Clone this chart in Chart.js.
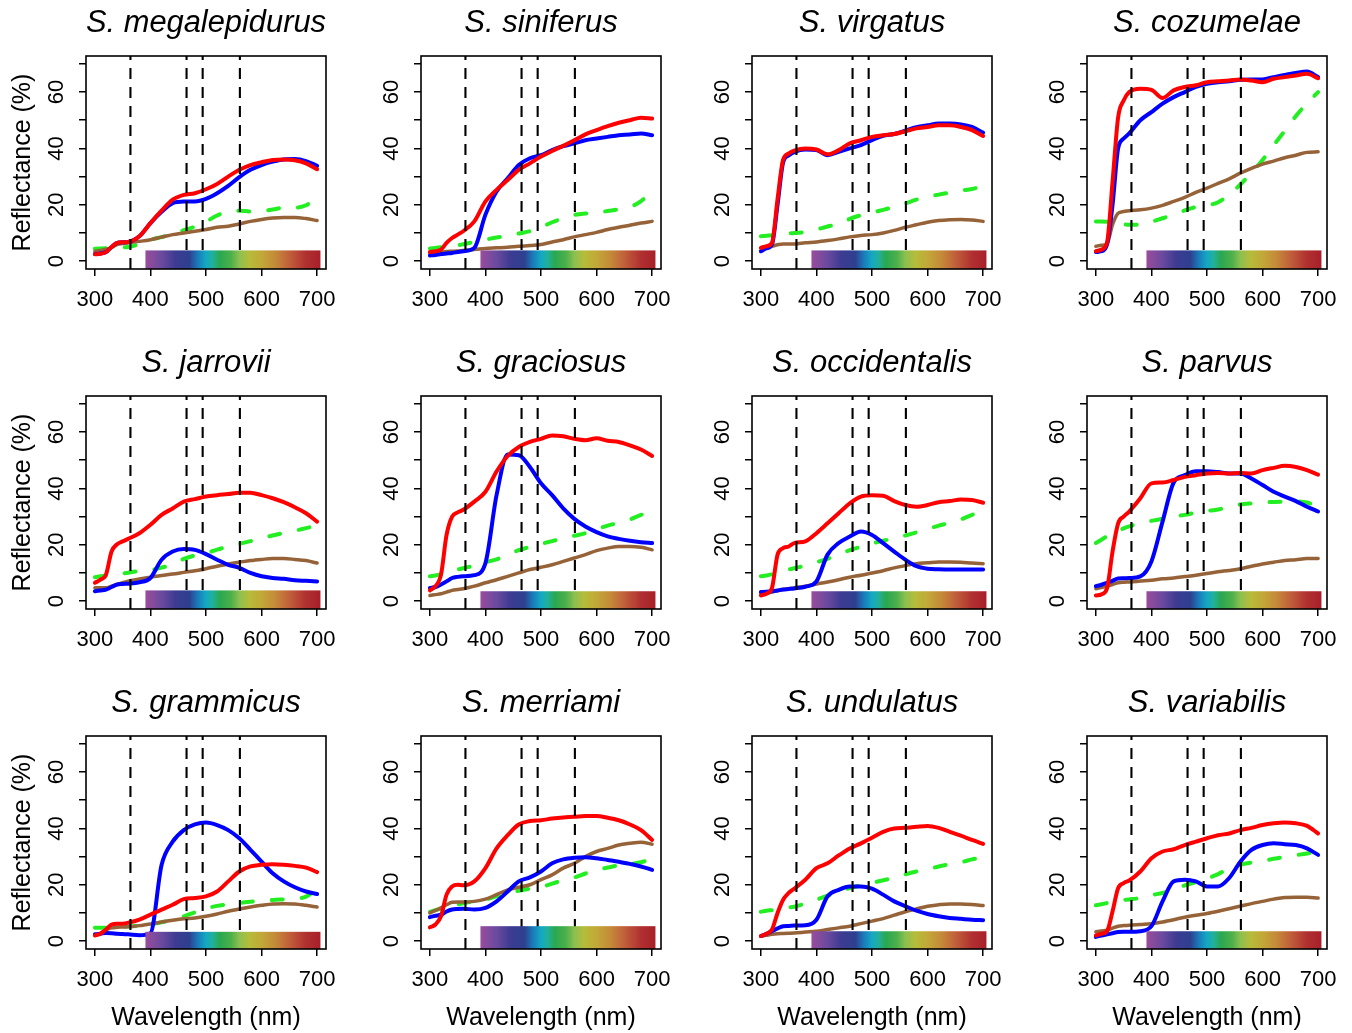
<!DOCTYPE html>
<html lang="en">
<head>
<meta charset="UTF-8">
<title>Sceloporus reflectance spectra</title>
<script src="https://cdn.jsdelivr.net/npm/chart.js"></script>
<style>
  html, body { margin: 0; padding: 0; background: #fff; overflow: hidden; }
  #wrap { position: relative; width: 1352px; height: 1033px; overflow: hidden; }
  #wrap canvas { position: absolute; }
</style>
</head>
<body>
<div id="wrap"></div>
<script>
// wavelengths (nm) shared by every curve
const WL = [300, 310, 320, 330, 340, 350, 360, 380, 400, 420, 440, 460, 480, 500, 520, 540, 560, 580, 600, 620, 640, 660, 680, 700];

const SPECIES = ['S. megalepidurus', 'S. siniferus', 'S. virgatus', 'S. cozumelae',
                 'S. jarrovii', 'S. graciosus', 'S. occidentalis', 'S. parvus',
                 'S. grammicus', 'S. merriami', 'S. undulatus', 'S. variabilis'];

// cone sensitivity peaks (dashed verticals)
const CONES = [364, 465, 494, 561];

const X_MIN = 284, X_MAX = 716;
const Y_MIN = -2.8, Y_MAX = 72.8;

// spectrum strip: nm range and height per panel
const BAR_FROM = 391, BAR_TO = 706;
const BAR_TOP = [3.8, 3.8, 3.8, 3.8, 3.8, 3.5, 3.5, 3.5, 3.3, 5.3, 3.5, 3.5];

// reflectance (%) per species, one row per panel
const RED = [
  [2.4, 2.6, 3.2, 5, 6.5, 6.7, 6.8, 8.8, 13.5, 17.9, 21.8, 23.5, 24.1, 25.5, 27.4, 30, 32.4, 34.1, 35.1, 35.9, 36.1, 35.8, 34.7, 32.6],
  [3.2, 3.5, 4.1, 6.5, 8.2, 9.4, 10.6, 14.1, 21.2, 25.3, 28.8, 32.4, 34.7, 37.1, 39.1, 40.9, 42.9, 45, 46.5, 47.9, 49.1, 50, 50.9, 50.6],
  [4.7, 5.3, 6.5, 22, 36, 38.2, 39.2, 40, 39.6, 37.9, 39.4, 41.8, 42.9, 44.1, 44.7, 45.1, 46.1, 47.1, 47.6, 48.2, 48.2, 47.6, 46.5, 44.4],
  [3.5, 4.1, 6.5, 28.2, 51, 57, 60, 61.2, 60.8, 57.9, 60.6, 61.8, 62.4, 63.5, 63.8, 64.1, 64.5, 64.1, 63.5, 64.7, 65.3, 65.9, 66.5, 64.9],
  [6.5, 7.6, 9.4, 17.6, 20.2, 21.2, 22.1, 24.1, 27.1, 30.6, 32.9, 35.3, 36.2, 37.1, 37.6, 38, 38.5, 38.5, 37.6, 36.5, 35.1, 33.3, 31.2, 28.2],
  [3.8, 5.3, 9.4, 23.5, 30, 31.5, 32.4, 35.3, 38.8, 46, 51.5, 54.7, 56.5, 57.6, 58.8, 58.5, 57.6, 57.1, 57.8, 56.9, 56.5, 55.3, 53.8, 51.5],
  [2, 2.6, 4.7, 16.5, 18.8, 19.4, 20.6, 21.2, 24.1, 27.6, 31.2, 34.7, 37.1, 37.6, 37.4, 35.5, 34.1, 33.5, 34.1, 35.1, 35.5, 36.1, 35.9, 34.9],
  [2, 2.4, 4.5, 17.6, 27.6, 30, 31.8, 36.5, 41.8, 42.1, 43, 44.1, 44.7, 45.3, 45.5, 45.3, 45.5, 45.3, 46.5, 47.3, 48, 47.6, 46.5, 44.9],
  [2, 2.6, 4.1, 5.9, 6.2, 6.2, 6.5, 7.6, 9.4, 11.2, 12.9, 14.9, 15.3, 15.9, 17.6, 21.2, 24.7, 26.5, 27.1, 27.3, 27.1, 26.7, 26.1, 24.5],
  [4.9, 5.9, 8.8, 16.5, 19.4, 20, 19.8, 21.2, 25.9, 32.9, 37.6, 41.4, 42.6, 42.9, 43.5, 43.9, 44.1, 44.4, 44.4, 43.8, 42.9, 41.4, 39.4, 35.9],
  [1.8, 2.6, 4.1, 10, 14.7, 17.1, 18.6, 21.8, 25.9, 27.6, 30.4, 32.9, 34.7, 36.7, 38.8, 40, 40.2, 40.6, 40.9, 40.2, 38.8, 37.4, 35.9, 34.5],
  [2, 2.6, 3.5, 10.6, 18.8, 20.6, 21.5, 24.7, 29.4, 31.8, 32.6, 34.1, 35.3, 36.5, 37.6, 38.2, 39.4, 40.2, 41.2, 41.8, 42.1, 41.8, 40.9, 38.2]
];

const BLUE = [
  [2.5, 2.7, 3.2, 5, 6.5, 6.7, 6.8, 8.8, 13.5, 17.5, 20.6, 21.2, 21.2, 22.1, 24.1, 26.7, 29.8, 32.4, 34.1, 35.3, 36.1, 36.2, 35.5, 33.8],
  [2, 2.2, 2.5, 2.7, 2.9, 3.2, 3.5, 4.7, 16.5, 24.7, 29.4, 34.1, 36.5, 37.6, 39.4, 40.8, 41.8, 42.9, 43.5, 44.1, 44.7, 44.9, 45.3, 44.7],
  [3.5, 4.5, 5.9, 20, 35, 37.5, 38.7, 39.6, 39.4, 37.6, 38.8, 40, 41.2, 42.9, 44.5, 45.1, 46.3, 47.5, 48.2, 48.8, 48.8, 48.5, 47.6, 45.6],
  [3.2, 3.5, 5.9, 20, 40, 43.5, 45.3, 50, 52.9, 55.9, 58.2, 60, 61.8, 62.9, 63.5, 63.8, 64.4, 64.5, 64.5, 65.3, 66.1, 66.8, 67.3, 65.3],
  [3.5, 3.8, 4.1, 5, 5.9, 6.1, 6.2, 6.7, 8.2, 14.7, 17.6, 18.5, 18.2, 16.7, 14.7, 12.9, 11.8, 10, 8.8, 8.2, 7.9, 7.4, 7.2, 7],
  [4.7, 5, 5.9, 7, 8.2, 8.6, 8.8, 9.2, 13.5, 37.6, 52, 51.8, 47.6, 41.8, 37.6, 32.9, 29.2, 26.5, 24.5, 23, 22.1, 21.4, 20.9, 20.6],
  [3.2, 3.3, 3.5, 3.8, 4.1, 4.3, 4.5, 5.1, 7, 16.5, 20.6, 22.9, 24.7, 23.5, 20.6, 17.6, 14.7, 12.4, 11.5, 11.3, 11.2, 11.2, 11.2, 11.2],
  [5.3, 5.8, 6.5, 7.2, 8, 8.1, 8.2, 8.8, 14.1, 28.2, 42.1, 44.7, 46.1, 46.1, 45.8, 45.3, 45.3, 43.5, 41.2, 38.8, 37.1, 35.5, 33.5, 31.8],
  [2.4, 2.6, 2.9, 2.8, 2.6, 2.5, 2.4, 2.1, 2.8, 27, 35.3, 39.4, 41.4, 42.1, 41.2, 39.4, 36.5, 32.4, 28.2, 24.1, 21.2, 19.1, 17.6, 16.7],
  [8.5, 9, 9.4, 10.5, 11.2, 11.4, 11.5, 11.2, 11.8, 14.1, 17.6, 21.2, 22.6, 24.7, 27.6, 29, 29.6, 29.8, 29.4, 28.8, 28.2, 27.4, 26.5, 25.3],
  [1.8, 2.6, 3.5, 4.5, 5.3, 5.4, 5.5, 5.6, 7.6, 15.9, 18.2, 19.4, 19.4, 18.6, 16.5, 14.1, 12.4, 10.8, 9.6, 8.8, 8.2, 7.9, 7.6, 7.4],
  [1.5, 2, 2.4, 2.8, 3.2, 3.3, 3.3, 3.5, 5.3, 14.1, 21.2, 21.8, 21.2, 19.4, 19.4, 22.4, 28.2, 32.4, 34.1, 34.7, 34.4, 34.1, 32.9, 30.6]
];

const GREEN = [
  [4.4, 4.5, 4.6, 4.7, 4.8, 4.9, 5, 6, 7.6, 8.5, 9.8, 11, 12.2, 14, 16.2, 17.6, 17.9, 17.6, 17.8, 18.3, 19, 19, 19.8, 23],
  [4.5, 4.7, 4.9, 5.1, 5.3, 5.6, 6, 6.8, 7.6, 8.4, 8.9, 9.8, 10.6, 12, 13.8, 15.2, 16.4, 16.9, 17.2, 17.8, 18.4, 19.2, 21.3, 25],
  [8.8, 9, 9.2, 9.4, 9.6, 9.8, 10, 10.3, 11.2, 12.3, 13.1, 15, 16.3, 17.2, 18.2, 19.3, 20.5, 21.8, 22.8, 23.6, 24.3, 25, 25.6, 26.6],
  [14.1, 14.1, 14, 13.7, 13.4, 13.1, 12.9, 12.9, 14, 15.2, 16.5, 18, 19.2, 19.8, 20.9, 23.6, 27.2, 31.4, 35.9, 41.2, 46.2, 51.5, 56, 60],
  [8.5, 8.8, 9.1, 9.4, 9.6, 9.8, 10.1, 10.7, 11, 11.9, 13, 15, 16.2, 17, 18.3, 19.3, 20.3, 21.3, 22.3, 23.3, 24.2, 25, 25.9, 26.8],
  [8.8, 9.1, 9.5, 10, 10.5, 11.2, 11.7, 12.6, 13.8, 14.8, 16.5, 18.1, 19.2, 20.3, 21.3, 22.3, 23.2, 24.1, 25.5, 26.8, 27.8, 29, 30.6, 31.5],
  [8.8, 9.1, 9.5, 10, 10.5, 11.2, 11.7, 12.6, 13.8, 15, 16.5, 18.1, 19.3, 20.5, 21.4, 22.3, 23.3, 24.4, 25.6, 26.8, 27.8, 29, 30.6, 31.5],
  [20.6, 21.8, 23, 24, 25, 25.8, 26.5, 27.6, 28.5, 29.2, 30, 30.6, 31.4, 32, 32.5, 33.5, 34.3, 34.7, 35, 35.2, 35.3, 35.4, 35, 33.5],
  [4.7, 4.7, 4.7, 4.8, 4.9, 5.1, 5.2, 5.5, 6, 6.7, 7.6, 8.8, 10.2, 11.6, 12.5, 13, 13.5, 14, 14.3, 14.6, 14.8, 15, 15.8, 18.6],
  [10.4, 11, 11.6, 12.1, 12.6, 13, 13.4, 14.2, 14.8, 15.9, 16.9, 17.9, 18.6, 19.2, 20.4, 21.6, 22.6, 24, 25.2, 26.1, 26.9, 27.4, 28, 29.2],
  [10.4, 10.8, 11, 11.3, 11.6, 11.9, 12.2, 13.3, 14.7, 16.1, 17.5, 18.8, 19.8, 20.7, 21.6, 22.5, 23.7, 24.7, 25.5, 26.5, 27.3, 28, 29, 29.8],
  [12.7, 13.1, 13.5, 13.9, 14.3, 14.6, 14.8, 15.3, 16.3, 17.1, 18.2, 19.8, 20.9, 22.2, 23.8, 25.8, 27.1, 27.9, 28.5, 29.2, 29.9, 30.5, 31.1, 31.8]
];

const BROWN = [
  [3.5, 3.8, 4.2, 4.8, 5.9, 6.2, 6.5, 7, 7.6, 8.5, 9.4, 10, 10.6, 11.2, 12, 12.4, 13.2, 14.1, 14.8, 15.3, 15.5, 15.5, 15.1, 14.4],
  [2.9, 3, 3.2, 3.4, 3.5, 3.6, 3.8, 4.1, 4.5, 4.7, 4.9, 5.3, 5.5, 5.9, 6.8, 7.6, 8.6, 9.4, 10.2, 11.2, 12, 12.7, 13.5, 14.1],
  [4.7, 5, 5.3, 5.8, 6.1, 6.1, 6.1, 6.5, 6.8, 7.3, 7.9, 8.6, 9.1, 9.4, 10, 10.9, 12, 12.9, 13.8, 14.4, 14.7, 14.8, 14.6, 14.1],
  [5.3, 5.6, 6.1, 13, 17, 17.6, 17.9, 18.2, 18.8, 19.8, 21.2, 22.6, 24.4, 25.9, 27.6, 29.2, 31.2, 32.9, 34.4, 35.5, 36.7, 37.6, 38.6, 38.8],
  [4.7, 4.7, 4.7, 5.3, 5.9, 6.5, 7.1, 7.9, 8.5, 9.1, 9.6, 10.2, 10.8, 11.5, 12.4, 13.2, 13.8, 14.4, 14.8, 15.1, 15.1, 14.8, 14.4, 13.5],
  [2, 2.3, 2.6, 3.2, 3.8, 4.1, 4.4, 5.3, 6.5, 7.6, 8.8, 10, 11.2, 12, 12.9, 14.1, 15.3, 16.5, 17.9, 18.8, 19.4, 19.4, 19.1, 18.2],
  [2.4, 2.8, 3.2, 3.7, 4.1, 4.4, 4.7, 5.3, 6.1, 6.8, 7.6, 8.5, 9.2, 10, 10.8, 11.8, 12.6, 13.3, 13.6, 13.9, 13.9, 13.8, 13.5, 13.3],
  [4.4, 4.8, 5.3, 5.9, 6.5, 6.7, 6.8, 7.1, 7.4, 7.9, 8.2, 8.7, 9.2, 9.8, 10.4, 10.9, 11.5, 12.4, 13.2, 13.8, 14.4, 14.7, 15.1, 15.1],
  [2.1, 2.8, 4, 4.7, 4.9, 5, 5.1, 5.5, 6.1, 6.8, 7.4, 7.9, 8.2, 8.8, 9.6, 10.6, 11.4, 12.1, 12.7, 13.2, 13.3, 13.2, 12.7, 12.1],
  [10, 10.9, 11.8, 12.9, 13.8, 13.9, 13.9, 14.1, 14.9, 16.5, 18.2, 19.1, 20, 21.8, 23.5, 25.9, 27.6, 30, 31.8, 32.9, 34.1, 34.7, 35.1, 34.4],
  [1.8, 2.1, 2.4, 2.6, 2.7, 2.8, 2.9, 3.2, 3.5, 4.1, 4.7, 5.3, 6.2, 7.1, 8, 9.2, 10.4, 11.4, 12.4, 12.9, 13.2, 13.2, 13, 12.6],
  [3.3, 3.6, 3.9, 4.6, 5.3, 5.5, 5.6, 5.9, 6.2, 6.8, 7.6, 8.5, 9.2, 9.8, 10.6, 11.5, 12.4, 13.3, 14.1, 14.9, 15.5, 15.6, 15.6, 15.3]
];

// colour stops of the spectrum strip
const SPECTRUM = [
  [391, '#9a4c9c'], [420, '#6a4a9e'], [445, '#3c3c92'], [470, '#2e4090'],
  [485, '#1a7ab8'], [500, '#14a8c4'], [512, '#22b09a'], [525, '#2aa850'],
  [545, '#4cb04a'], [560, '#8cc050'], [578, '#b6bc3a'], [600, '#c2a838'],
  [625, '#c48a38'], [650, '#c0603a'], [680, '#b03030'], [706, '#a8202a']
];

const FONT = '"Liberation Sans", Arial, Helvetica, sans-serif';
Chart.defaults.font.family = FONT;
Chart.defaults.color = '#000';

const COL_LEFT = [86, 421, 752, 1087];
const ROW_TOP = [56, 396, 736];
const PLOT_W = 240, PLOT_H = 213;
const AX_W = 80, AX_H = 84, TITLE_H = 56, PAD_R = 30;

const panelDecor = {
  id: 'panelDecor',
  afterDatasetsDraw(chart, args, opts) {
    const {ctx, chartArea: a, scales: {x, y}} = chart;
    const x0 = x.getPixelForValue(BAR_FROM), x1 = x.getPixelForValue(BAR_TO);
    const y0 = y.getPixelForValue(opts.barTop);
    const g = ctx.createLinearGradient(x0, 0, x1, 0);
    SPECTRUM.forEach(([nm, c]) => g.addColorStop((nm - BAR_FROM) / (BAR_TO - BAR_FROM), c));
    ctx.save();
    ctx.fillStyle = g;
    ctx.fillRect(x0, y0, x1 - x0, a.bottom - y0);
    ctx.restore();
  },
  afterDraw(chart) {
    const {ctx, chartArea: a, scales: {y}} = chart;
    ctx.save();
    ctx.strokeStyle = '#000';
    ctx.lineWidth = 1.6;
    ctx.strokeRect(a.left, a.top, a.right - a.left, a.bottom - a.top);
    // R-style y labels, parallel to the axis, every other tick
    ctx.fillStyle = '#000';
    ctx.font = '22px ' + FONT;
    ctx.textAlign = 'center';
    ctx.textBaseline = 'middle';
    y.ticks.forEach(t => {
      if (t.value % 20 !== 0) return;
      ctx.save();
      ctx.translate(a.left - 29, y.getPixelForValue(t.value));
      ctx.rotate(-Math.PI / 2);
      ctx.fillText(String(t.value), 0, 0);
      ctx.restore();
    });
    ctx.restore();
  }
};

function curve(vals, color, width, dash) {
  return {
    data: WL.map((w, k) => ({x: w, y: vals[k]})),
    borderColor: color,
    borderWidth: width,
    borderDash: dash || [],
    borderCapStyle: 'round',
    borderJoinStyle: 'round',
    pointRadius: 0,
    cubicInterpolationMode: 'monotone',
    fill: false
  };
}

const wrap = document.getElementById('wrap');
const tickGrid = {drawOnChartArea: false, drawTicks: true, tickLength: 7, color: '#000', lineWidth: 1.5};

SPECIES.forEach((name, i) => {
  const row = Math.floor(i / 4), col = i % 4;
  const canvas = document.createElement('canvas');
  canvas.width = AX_W + PLOT_W + PAD_R;
  canvas.height = TITLE_H + PLOT_H + AX_H;
  canvas.style.left = (COL_LEFT[col] - AX_W) + 'px';
  canvas.style.top = (ROW_TOP[row] - TITLE_H) + 'px';
  wrap.appendChild(canvas);

  const cones = CONES.map(c => ({
    data: [{x: c, y: Y_MIN}, {x: c, y: Y_MAX}],
    borderColor: '#000', borderWidth: 2.1, borderDash: [11, 8], pointRadius: 0, fill: false
  }));

  new Chart(canvas, {
    type: 'line',
    data: {
      datasets: [
        ...cones,
        curve(RED[i], '#ff0000', 4),
        curve(BLUE[i], '#0000ff', 4),
        curve(BROWN[i], '#966238', 3.5),
        curve(GREEN[i], '#22ee22', 4, [11, 19])
      ]
    },
    options: {
      responsive: false,
      animation: false,
      devicePixelRatio: 1,
      layout: {padding: {left: 0, right: PAD_R, top: 0, bottom: 0}},
      plugins: {
        legend: {display: false},
        tooltip: {enabled: false},
        title: {
          display: true, text: name, fullSize: false, color: '#000',
          font: {family: FONT, size: 31, style: 'italic', weight: 'normal', lineHeight: 1.2},
          padding: {top: 5, bottom: TITLE_H - 31 * 1.2 - 5}
        },
        panelDecor: {barTop: BAR_TOP[i]}
      },
      scales: {
        x: {
          type: 'linear', min: X_MIN, max: X_MAX,
          afterFit: s => { s.height = AX_H; },
          ticks: {stepSize: 100, includeBounds: false, autoSkip: false, maxRotation: 0,
                  color: '#000', padding: 11, font: {family: FONT, size: 22}},
          grid: tickGrid,
          border: {display: false},
          title: {display: row === 2, text: 'Wavelength (nm)', color: '#000',
                  font: {family: FONT, size: 25, lineHeight: 1}, padding: {top: 0, bottom: 2}}
        },
        y: {
          type: 'linear', min: Y_MIN, max: Y_MAX,
          afterFit: s => { s.width = AX_W; },
          ticks: {stepSize: 10, includeBounds: false, autoSkip: false, callback: () => ''},
          grid: tickGrid,
          border: {display: false},
          title: {display: col === 0, text: 'Reflectance (%)', color: '#000',
                  font: {family: FONT, size: 25, lineHeight: 1.2}, padding: {top: 2, bottom: 0}}
        }
      }
    },
    plugins: [panelDecor]
  });
});
</script>
</body>
</html>
